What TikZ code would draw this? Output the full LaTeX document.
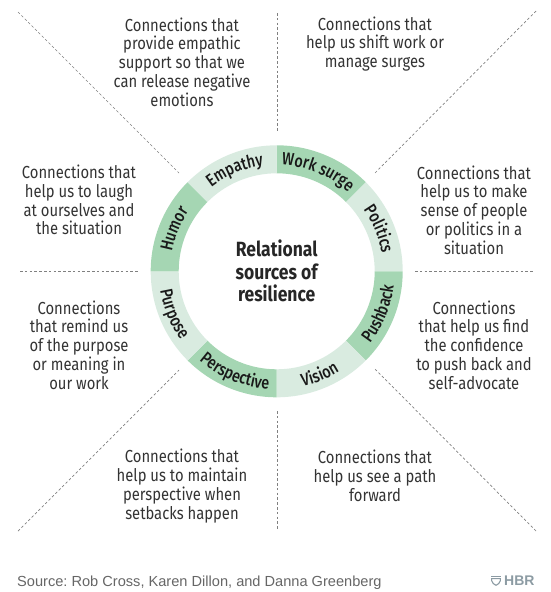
\documentclass[tikz,border=0pt]{standalone}
\usepackage{fontspec}
\usetikzlibrary{decorations.text}
\setmainfont{Fira Sans}[FakeStretch=0.85]
\newfontfamily\labelfont{Fira Sans Medium}[FakeStretch=0.82]
\newfontfamily\srcfont{Liberation Sans}
\frenchspacing
\definecolor{ringdark}{HTML}{A5D6B3}
\definecolor{ringlight}{HTML}{D9EBE0}
\definecolor{inktext}{HTML}{333333}
\definecolor{dashgray}{HTML}{808080}
\definecolor{hbrgray}{HTML}{8C9BA3}
\tikzset{
  blurb/.style={align=center,font=\fontsize{17.4}{18.8}\selectfont,text=inktext,inner sep=0pt},
  dashline/.style={draw=dashgray,line width=0.7pt,dash pattern=on 2.6pt off 2.2pt},
  centertitle/.style={align=center,font=\fontsize{20.6}{22.5}\selectfont\bfseries,text=black!85,inner sep=0pt},
}
\newcommand{\seg}[3]{\fill[#3] (#1:126) arc[start angle=#1,end angle=#2,radius=126] -- (#2:98) arc[start angle=#2,end angle=#1,radius=98] -- cycle;}
\newcommand{\arctext}[4]{\path[decorate,decoration={text along path,text align=center,text={|\labelfont\fontsize{17.5}{18}\selectfont\color{black!90}|#4}}] (#1:#3) arc[start angle=#1,end angle=#2,radius=#3];}
\begin{document}
\begin{tikzpicture}[x=1pt,y=1pt]
\useasboundingbox (0,0) rectangle (550,-592);
% dashed separators
\coordinate (tA) at (277,-13);  \coordinate (tB) at (277,-132);
\coordinate (bA) at (277,-411); \coordinate (bB) at (277,-530);
\coordinate (lA) at (20,-271);  \coordinate (lB) at (138,-271);
\coordinate (rA) at (415,-271); \coordinate (rB) at (534,-271);
\coordinate (d1A) at (18,-12);  \coordinate (d1B) at (179,-173);
\coordinate (d2A) at (536,-11); \coordinate (d2B) at (375,-173);
\coordinate (d3A) at (18,-531); \coordinate (d3B) at (179,-370);
\coordinate (d4A) at (536,-531);\coordinate (d4B) at (375,-369);
\foreach \p in {t,b,l,r,d1,d2,d3,d4} \draw[dashline] (\p A) -- (\p B);
% ring
\begin{scope}[shift={(276.7,-271.3)}]
\seg{45}{90}{ringdark}
\seg{0}{45}{ringlight}
\seg{-45}{0}{ringdark}
\seg{-90}{-45}{ringlight}
\seg{-135}{-90}{ringdark}
\seg{-180}{-135}{ringlight}
\seg{135}{180}{ringdark}
\seg{90}{135}{ringlight}
\arctext{90}{45}{106.5}{Work surge}
\arctext{45}{0}{106.5}{Politics}
\arctext{-45}{0}{118}{Pushback}
\arctext{-90}{-45}{118}{Vision}
\arctext{-135}{-90}{118}{Perspective}
\arctext{-180}{-135}{118}{Purpose}
\arctext{180}{135}{106.5}{Humor}
\arctext{135}{90}{106.5}{Empathy}
\end{scope}
\node[centertitle] (title) at (276.7,-271) {Relational\\sources of\\resilience};
\node[blurb] (empathy) at (182,-62) {Connections that\\provide empathic\\support so that we\\can release negative\\emotions};
\node[blurb] (work) at (375,-44) {Connections that\\help us shift work or\\manage surges};
\node[blurb] (humor) at (79,-200) {Connections that\\help us to laugh\\at ourselves and\\the situation};
\node[blurb] (politics) at (474,-210) {Connections that\\help us to make\\sense of people\\or politics in a\\situation};
\node[blurb] (purpose) at (79,-345) {Connections\\that remind us\\of the purpose\\or meaning in\\our work};
\node[blurb] (pushback) at (474,-345) {Connections\\that help us find\\the confidence\\to push back and\\self-advocate};
\node[blurb] (perspective) at (182,-486) {Connections that\\help us to maintain\\perspective when\\setbacks happen};
\node[blurb] (vision) at (375,-476) {Connections that\\help us see a path\\forward};
\node[anchor=base west,inner sep=0pt,text=black!60,font=\srcfont\fontsize{14.6}{16}\selectfont] (source) at (17,-586) {Source: Rob Cross, Karen Dillon, and Danna Greenberg};
% HBR mark
\fill[hbrgray] (491,-575.5) rectangle (501,-576.8);
\draw[hbrgray,line width=1.1pt] (491.6,-578.6) -- (500.4,-578.6) -- (500.4,-580.5) .. controls (500,-583) and (498,-584.5) .. (496,-585.3) .. controls (494,-584.5) and (492,-583) .. (491.6,-580.5) -- cycle;
\node[anchor=base west,inner sep=0pt,text=hbrgray,font=\srcfont\bfseries\fontsize{14}{16}\selectfont] (hbr) at (504,-585.5) {HBR};
\end{tikzpicture}
\end{document}
